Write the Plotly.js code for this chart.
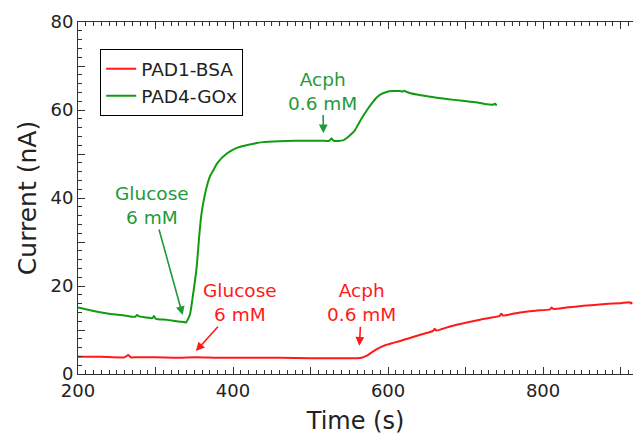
<!DOCTYPE html>
<html><head><meta charset="utf-8">
<script src="https://cdn.plot.ly/plotly-3.0.1.min.js"></script>
<style>html,body{margin:0;padding:0;background:#fff}#c{width:633px;height:435px}</style>
</head><body><div id="c"></div>
<script>
const bsaTime = [200,230,260,265,268,275,300,330,352,380,420,460,500,530,560,566,572,578,585,594,605,615.5,630,645,658,660,662,680,701.5,720,744,746,748,770,790,809,811,813,830,852,880,900,912,913,915];
const bsaCurrent = [3.9,3.9,3.8,4.3,3.8,3.8,3.8,3.7,3.8,3.7,3.7,3.7,3.6,3.6,3.6,3.7,4.1,4.8,5.6,6.4,7.0,7.5,8.3,9.1,9.8,10.3,9.9,10.8,11.7,12.4,13.2,13.7,13.3,14.0,14.4,14.7,15.1,14.8,15.1,15.5,15.9,16.1,16.3,16.0,16.3];
const goxTime = [200,220,240,260,274,276,279,290,296,298,300,315,331.6,337,339.4,342,344.5,348,353,356.6,359,361.7,366,370,374.6,380,392,405,420,439,460,480,500,515,524,527,530,542,548,553,557,562,567,572.5,579,585,591,598,606,615,619,621,624,637,655,671,685,701.5,715,727,735,738,740];
const goxCurrent = [15.1,14.3,13.7,13.3,13.0,13.4,13.1,12.8,12.7,13.2,12.6,12.3,11.9,11.8,11.7,12.5,13.6,17.5,24.2,31.8,36.0,39.0,42.5,44.8,46.3,48.0,50.1,51.4,52.1,52.7,52.9,53.0,53.0,53.0,53.0,53.5,53.0,53.1,53.8,54.6,55.3,56.9,58.4,59.9,61.5,62.8,63.6,64.1,64.3,64.3,64.2,64.4,64.1,63.5,63.0,62.6,62.3,62.0,61.7,61.3,61.2,61.4,61.0];
const seriesNames = ['PAD1-BSA','PAD4-GOx'];
const xTickVals = [200,300,400,500,600,700,800,900];
const xTickText = ['200','','400','','600','','800',''];
const yTickVals = [0,10,20,30,40,50,60,70,80];
const yTickText = ['0','','20','','40','','60','','80'];

const red = '#ff1a1a', green = '#129b12', greenAnn = '#1f9a3a';
const font = "'DejaVu Sans', sans-serif";

const traces = [
  {x: bsaTime, y: bsaCurrent, name: seriesNames[0], mode: 'lines', line: {color: red, width: 2, shape: 'spline', smoothing: 0.6}},
  {x: goxTime, y: goxCurrent, name: seriesNames[1], mode: 'lines', line: {color: green, width: 2, shape: 'spline', smoothing: 0.6}}
];

function ann(x, y, ax, ay, text, color) {
  return {x, y, ax, ay, axref: 'x', ayref: 'y', xref: 'x', yref: 'y', text, showarrow: true,
    arrowhead: 2, arrowsize: 1.1, arrowwidth: 1.6, arrowcolor: color,
    font: {family: font, size: 18.5, color}, align: 'center', standoff: 0, startstandoff: 0};
}

const layout = {
  width: 633, height: 435,
  margin: {l: 78, r: 0, t: 22, b: 61},
  paper_bgcolor: '#fff', plot_bgcolor: '#fff',
  font: {family: font, color: '#222'},
  showlegend: true,
  legend: {x: 0.04, y: 0.923, xanchor: 'left', yanchor: 'top', bordercolor: '#000', borderwidth: 1,
    bgcolor: '#fff', font: {family: font, size: 18.5, color: '#222'}, tracegroupgap: 0},
  xaxis: {range: [200, 916], tickmode: 'array', tickvals: xTickVals, ticktext: xTickText,
    ticks: 'inside', ticklen: 7, tickcolor: '#333', showline: true, linecolor: '#333', linewidth: 1,
    mirror: 'ticks', showgrid: false, zeroline: false,
    tickfont: {family: font, size: 18, color: '#222'},
    minor: {dtick: 10, tick0: 0, ticks: 'inside', ticklen: 4, tickcolor: '#333', showgrid: false},
    title: {text: 'Time (s)', font: {family: font, size: 24, color: '#222'}, standoff: 12}},
  yaxis: {range: [0, 80], tickmode: 'array', tickvals: yTickVals, ticktext: yTickText,
    ticks: 'inside', ticklen: 7, tickcolor: '#333', showline: true, linecolor: '#333', linewidth: 1,
    showgrid: false, zeroline: false,
    tickfont: {family: font, size: 18, color: '#222'},
    minor: {dtick: 2, tick0: 0, ticks: 'inside', ticklen: 4, tickcolor: '#333', showgrid: false},
    title: {text: 'Current (nA)', font: {family: font, size: 25, color: '#222'}, standoff: 6}},
  annotations: [
    ann(335, 13.4, 296, 38.3, 'Glucose<br>6 mM', greenAnn),
    ann(516.5, 54.7, 516, 64.3, 'Acph<br>0.6 mM', greenAnn),
    ann(352, 5.2, 408.6, 16.2, 'Glucose<br>6 mM', red),
    ann(563, 6.4, 566, 16.2, 'Acph<br>0.6 mM', red)
  ]
};
Plotly.newPlot('c', traces, layout, {displayModeBar: false, staticPlot: true});
</script></body></html>
